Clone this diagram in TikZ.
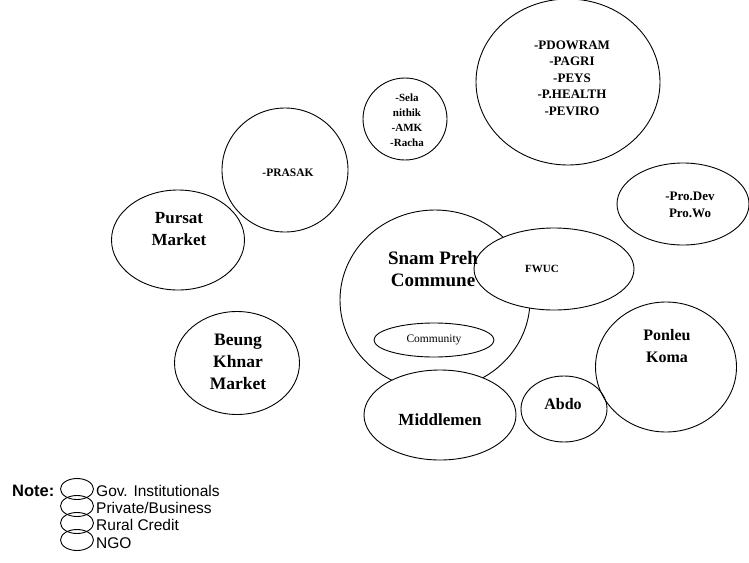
\documentclass[tikz,border=0pt]{standalone}
\usepackage{fontspec}
\setmainfont{Liberation Serif}
\newfontfamily\legendfont{Liberation Sans}
\usetikzlibrary{shapes.geometric}
\begin{document}
\begin{tikzpicture}[x=1pt,y=-1pt,
  ell/.style={draw, ellipse, line width=0.9pt, inner sep=0pt},
  ellw/.style={ell, fill=white},
  lbl/.style={font=\bfseries, align=center, inner sep=0pt},
  leg/.style={draw, ellipse, line width=0.9pt, minimum width=33pt, minimum height=21pt, inner sep=0pt},
  legtxt/.style={font=\legendfont\fontsize{15.5}{17}\selectfont, anchor=base west, inner sep=0pt}]
\useasboundingbox (0,0) rectangle (749,562);
% ellipses
\node[ell, minimum width=84pt, minimum height=82pt] (sela) at (405,119) {};
\node[ell, minimum width=184pt, minimum height=166pt] (pdow) at (568,82) {};
\node[ell, minimum width=126pt, minimum height=124pt] (prasak) at (285,170) {};
\node[ell, minimum width=133pt, minimum height=100pt] (pursat) at (178,240) {};
\node[ell, minimum width=132pt, minimum height=82pt] (prodev) at (683,204) {};
\node[ell, minimum width=190pt, minimum height=180pt] (snam) at (435,300) {};
\node[ellw, minimum width=160pt, minimum height=82pt] (fwuc) at (554,269) {};
\node[ell, minimum width=120pt, minimum height=34pt] (comm) at (434,340) {};
\node[ell, minimum width=125pt, minimum height=103pt] (beung) at (237,363) {};
\node[ellw, minimum width=152pt, minimum height=90pt] (middle) at (440,415) {};
\node[ell, minimum width=86pt, minimum height=66pt] (abdo) at (564,409) {};
\node[ell, minimum width=141pt, minimum height=130pt] (ponleu) at (666,367) {};
% labels
\node[lbl, font=\bfseries\fontsize{11}{15}\selectfont] (tsela) at (407,120) {-Sela\\nithik\\-AMK\\-Racha};
\node[lbl, font=\bfseries\fontsize{13}{16.5}\selectfont] (tpdow) at (572,78) {-PDOWRAM\\-PAGRI\\-PEYS\\-P.HEALTH\\-PEVIRO};
\node[lbl, font=\bfseries\fontsize{11.5}{12}\selectfont] (tprasak) at (288,173) {-PRASAK};
\node[lbl, font=\bfseries\fontsize{17}{22}\selectfont] (tpursat) at (179,229) {Pursat\\Market};
\node[lbl, font=\bfseries\fontsize{13}{17}\selectfont] (tprodev) at (690,205) {-Pro.Dev\\Pro.Wo};
\node[lbl, font=\bfseries\fontsize{19}{22}\selectfont] (tsnam) at (433,269) {Snam Preh\\Commune};
\node[lbl, font=\bfseries\fontsize{11}{13}\selectfont] (tfwuc) at (542,269) {FWUC};
\node[lbl, font=\fontsize{11.5}{12}\selectfont] (tcomm) at (434,340) {Community};
\node[lbl, font=\bfseries\fontsize{17.5}{22}\selectfont] (tbeung) at (238,362) {Beung\\Khnar\\Market};
\node[lbl, font=\bfseries\fontsize{17}{22}\selectfont] (tmiddle) at (440,420) {Middlemen};
\node[lbl, font=\bfseries\fontsize{16}{22}\selectfont] (tabdo) at (563,404) {Abdo};
\node[lbl, font=\bfseries\fontsize{16}{22}\selectfont] (tponleu) at (667,346) {Ponleu\\Koma};
% legend
\node[font=\legendfont\bfseries\fontsize{16.5}{18}\selectfont, anchor=base west, inner sep=0pt] (note) at (12,496) {Note:};
\node[leg] (l1) at (77,489) {};
\node[leg] (l2) at (77,506) {};
\node[leg] (l3) at (77,523) {};
\node[leg] (l4) at (77,540) {};
\node[legtxt] (t1) at (96,496) {Gov. Institutionals};
\node[legtxt] (t2) at (96,513) {Private/Business};
\node[legtxt] (t3) at (96,530) {Rural Credit};
\node[legtxt] (t4) at (96,548) {NGO};
\end{tikzpicture}
\end{document}
